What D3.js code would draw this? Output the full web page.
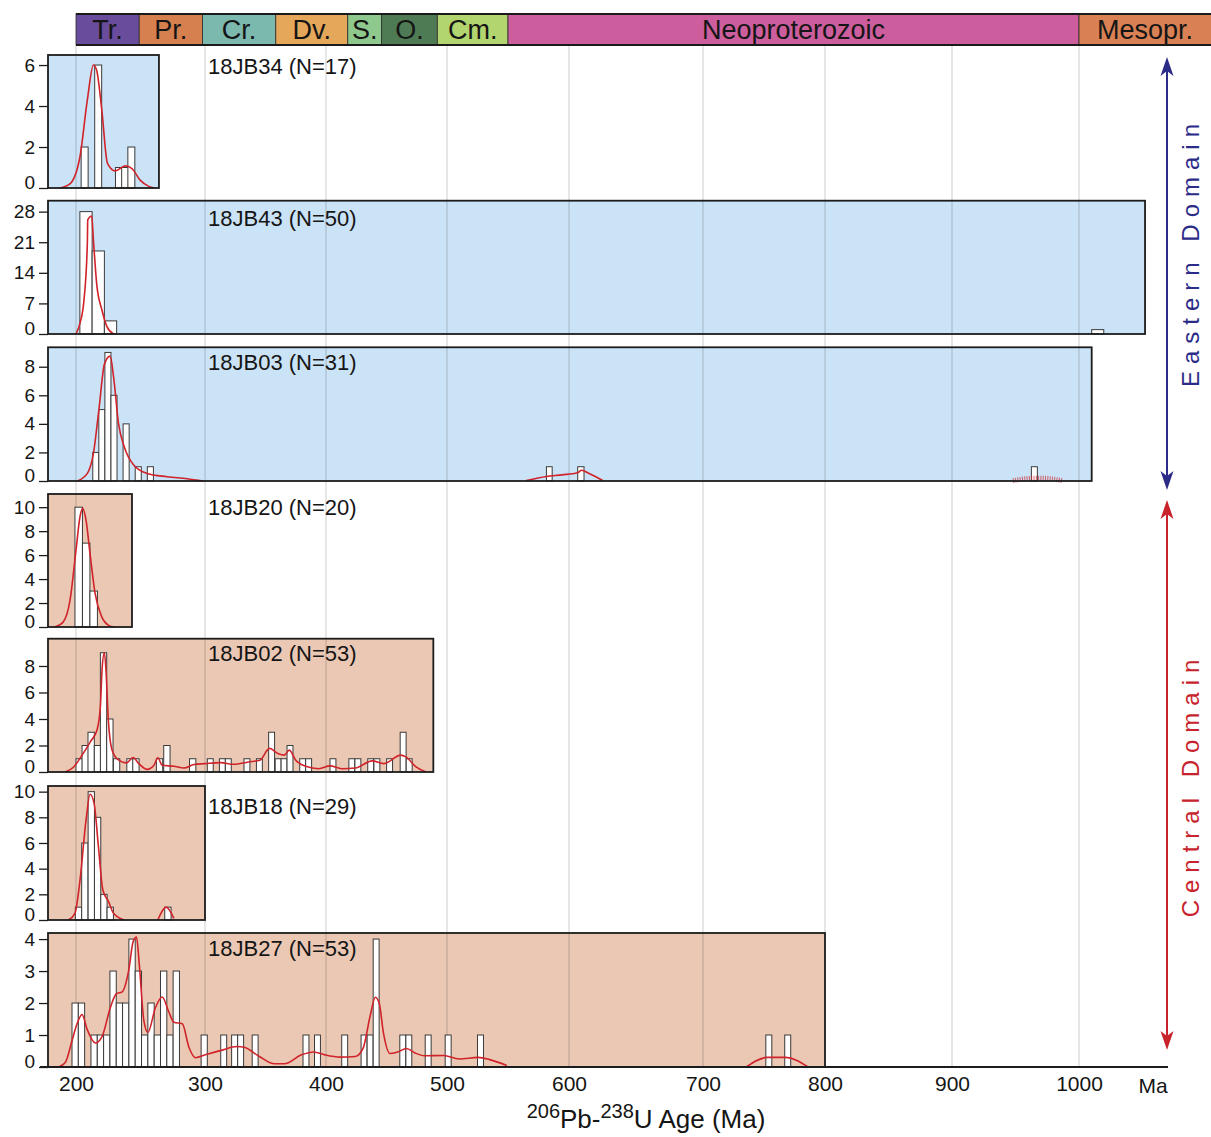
<!DOCTYPE html>
<html>
<head>
<meta charset="utf-8">
<script src="https://cdn.jsdelivr.net/npm/d3@7"></script>
<style>
  body { margin: 0; background: #fff; }
  svg { display: block; }
</style>
</head>
<body>
<div id="chart"></div>
<script>
// ---- data ----
const sampleNames = ['18JB34', '18JB43', '18JB03', '18JB20', '18JB02', '18JB18', '18JB27'];
const sampleN = [17, 50, 31, 20, 53, 29, 53];
const sampleDomain = ['east', 'east', 'east', 'central', 'central', 'central', 'central'];
const panelMaxAge = [264.3, 1052, 1010, 243.4, 488.7, 300, 800]; // right edge of each box (Ma)
const binWidths = [5.4, 9.5, 4.7, 5.8, 4.9, 4.9, 4.9];
const yMax = [6.49, 30.5, 9.36, 11.1, 10.06, 10.44, 4.19];
const yTicks = [[0, 2, 4, 6], [0, 7, 14, 21, 28], [0, 2, 4, 6, 8], [0, 2, 4, 6, 8, 10],
                [0, 2, 4, 6, 8], [0, 2, 4, 6, 8, 10], [0, 1, 2, 3, 4]];

// histogram bins: [bin start (Ma), count]
const bins34 = [[204, 2], [214.5, 6], [230.6, 1], [235.4, 1], [240.2, 2]];
const bins43 = [[203, 28], [212.5, 19], [222, 3], [1010, 1]];
const bins03 = [[213, 2], [217.7, 5], [222.4, 9], [227.1, 6], [236.5, 4], [245.9, 1], [255.3, 1],
                [581.5, 1], [606.5, 1], [962.5, 1]];
const bins20 = [[199.2, 10], [205, 7], [210.8, 3]];
const bins02 = [[200, 1], [204.7, 2], [209.3, 3], [214.2, 2], [218.9, 9], [223.8, 4], [229, 1],
                [239.4, 1], [244, 1], [262.3, 1], [268, 2], [288, 1], [301.9, 1], [311.9, 1],
                [316.8, 1], [332.2, 1], [342.5, 1], [352.6, 3], [358, 1], [362.9, 1], [367.8, 2],
                [378.3, 1], [383.2, 1], [403.3, 1], [418.9, 1], [423.9, 1], [434.5, 1], [439.6, 1],
                [450.1, 1], [461.3, 3], [466.3, 1]];
const bins18 = [[199.5, 1], [204.4, 6], [209.4, 10], [214.3, 8], [219.2, 2], [224.1, 1], [268.8, 1]];
const bins27 = [[196.9, 2], [201.8, 2], [211.6, 1], [216.5, 1], [221.4, 1], [226.3, 3], [231.2, 2],
                [236.1, 2], [241, 4], [245.9, 3], [250.8, 1], [255.7, 2], [260.6, 1], [265.5, 3],
                [270.4, 1], [275.3, 3], [297, 1], [313, 1], [322, 1], [327, 1], [339, 1], [381, 1],
                [390.5, 1], [413, 1], [429, 1], [434, 1], [439, 4], [461, 1], [466, 1], [482, 1],
                [498.5, 1], [525, 1], [751.5, 1], [767, 1]];

// probability density curves: [age (Ma), value on the count axis], one list per curve piece
const kde34 = [[[187.5, 0], [195.3, 0.2], [203, 1.5], [208.8, 4.3], [213.5, 6.0], [216, 5.75], [220, 3.8],
                [224.4, 1.2], [230.4, 0.83], [238.2, 1.08], [243.4, 0.95], [249.9, 0.37], [256.4, 0.08], [260.8, 0]]];
const kde43 = [[[200, 0], [203.1, 2.5], [206.2, 7.8], [208.8, 20.8], [209.1, 26.1], [212.2, 27], [213.5, 21.5],
                [216.1, 11.3], [220, 5.6], [223.9, 1.75], [229.1, 0]]];
const kde03 = [[[201, 0], [208.8, 0.53], [213.5, 1.93], [217.7, 4.95], [222.1, 8.2], [226.5, 8.74], [229.1, 7.3],
                [233, 4.0], [237.4, 2.4], [244.7, 1.12], [255.1, 0.53], [270.6, 0.3], [286.2, 0.16], [298.7, 0]],
               [[565, 0.03], [581.5, 0.32], [594.3, 0.43], [606.3, 0.58], [609.4, 0.75], [615, 0.52], [625.2, 0.03]]];
const kde03Hatched = [[948, 0.02], [958, 0.16], [967, 0.2], [977, 0.16], [987, 0.02]];
const kde20 = [[[183.6, 0], [190.1, 0.42], [195.3, 2.2], [200, 6.4], [203.1, 9.2], [205.2, 9.9], [207.8, 8.9],
                [210.9, 6.1], [214.8, 2.8], [220, 0.84], [225.2, 0.14], [229.6, 0]]];
const kde02 = [[[191.7, 0], [198.2, 0.38], [204.7, 1.27], [211.1, 2.28], [216.3, 3.17], [218.9, 4.95], [220.2, 7.74],
                [222, 9.0], [223.3, 7.6], [224.9, 4.2], [228, 1.65], [233.2, 0.89], [239.1, 0.69], [244.3, 1.09],
                [248.7, 0.63], [255.2, 0.2], [260.4, 0.51], [263.5, 1.07], [266.8, 0.51], [275.9, 0.43],
                [283.7, 0.3], [291.5, 0.56], [300, 0.63], [312.7, 0.71], [323.6, 0.58], [335.8, 0.76],
                [345.3, 0.89], [353.4, 1.78], [360.2, 1.4], [365.6, 1.27], [369.6, 1.65], [375, 0.89],
                [383.2, 0.43], [394, 0.25], [403.3, 0.46], [413.1, 0.25], [424.2, 0.3], [438.2, 0.84],
                [447.9, 0.63], [461.8, 1.27], [466, 1.14], [474.4, 0.38], [482.7, 0]]];
const kde18 = [[[194, 0], [199.2, 0.52], [203.1, 3.1], [207.8, 7.8], [210.9, 9.8], [214, 9.1], [217.4, 5.7],
                [220.8, 2.34], [225.2, 1.43], [229.1, 0.52], [237.4, 0]],
               [[263.4, 0], [269.9, 1.0], [275.8, 0.13]]];
const kde27 = [[[186.5, 0], [191.7, 0.14], [196.9, 0.82], [200.8, 1.35], [204.7, 1.64], [208.5, 1.19], [215, 0.75],
                [220.2, 0.95], [226.7, 1.87], [231.3, 2.29], [235.8, 2.35], [240.9, 3.03], [244.3, 3.92],
                [246.9, 4.06], [249, 3.24], [252.6, 1.45], [255.7, 1.08], [261.7, 1.87], [266.8, 2.19],
                [272, 1.72], [275.9, 1.4], [282.4, 1.35], [287.6, 0.61], [292.7, 0.29], [300.9, 0.39],
                [313.3, 0.52], [326.6, 0.64], [332.3, 0.62], [344.9, 0.33], [357.6, 0.1], [365.5, 0.1],
                [379.7, 0.38], [389.9, 0.47], [399, 0.38], [411.7, 0.31], [424.3, 0.33], [430.7, 0.59],
                [436.4, 1.58], [440.8, 2.18], [444, 1.99], [447.5, 1.06], [452.9, 0.42], [459.2, 0.47],
                [466.5, 0.58], [473.5, 0.44], [481.4, 0.35], [497.3, 0.36], [510, 0.25], [525.6, 0.3],
                [535, 0.23], [549, 0.05]],
               [[735.3, 0], [752.8, 0.3], [767.7, 0.3], [786.2, 0]]];

const sampleBins = [bins34, bins43, bins03, bins20, bins02, bins18, bins27];
const sampleKde = [kde34, kde43, kde03, kde20, kde02, kde18, kde27];

// geological time scale strip
const periodNames = ['Tr.', 'Pr.', 'Cr.', 'Dv.', 'S.', 'O.', 'Cm.', 'Neoproterozoic', 'Mesopr.'];
const periodStart = [200, 249, 298, 358.5, 418, 446, 492, 550, 1000];
const periodEnd = [249, 298, 358.5, 418, 446, 492, 550, 1000, 1105];
const periodColors = ['#6a4c9c', '#d6804f', '#7bb8ae', '#e5a85a', '#8ec88c', '#4f7b54', '#b3d56f', '#cc5e9d', '#d98155'];

const xTickValues = [200, 300, 400, 500, 600, 700, 800, 900, 1000];

// ---- layout ----
const W = 1211, H = 1137;
const panelTop = [55, 200.7, 347.3, 494, 638.7, 786, 933];
const panelBottom = [188, 334, 481, 627, 772, 920, 1067];
const labelBaseline = [74, 226, 370, 515, 661, 814, 956];
const boxLeft = 48;
const domainFill = { east: '#cbe3f6', central: '#eac8b4' };
const curveColor = '#d0232a';

const svg = d3.select('#chart')
  .append('svg')
  .attr('width', W)
  .attr('height', H)
  .style('font-family', '"Liberation Sans", Arial, Helvetica, sans-serif');

// the age axis in the figure isn't quite even, so piecewise linear through the gridlines
const x = d3.scaleLinear()
  .domain(xTickValues)
  .range([76, 205, 326, 447, 569, 703, 825, 952, 1079]);

// time scale bar
const strip = svg.append('g');
strip.selectAll('rect')
  .data(periodNames)
  .enter()
  .append('rect')
  .attr('x', (d, i) => x(periodStart[i]))
  .attr('width', (d, i) => x(periodEnd[i]) - x(periodStart[i]))
  .attr('y', 14)
  .attr('height', 31)
  .attr('fill', (d, i) => periodColors[i])
  .attr('stroke', '#2a2a2a')
  .attr('stroke-width', 0.8);
strip.selectAll('text')
  .data(periodNames)
  .enter()
  .append('text')
  .attr('x', (d, i) => (x(periodStart[i]) + Math.min(x(periodEnd[i]), W)) / 2)
  .attr('y', 39)
  .attr('text-anchor', 'middle')
  .attr('font-size', 27)
  .attr('fill', '#151515')
  .text(d => d);
strip.append('line').attr('x1', x(200)).attr('x2', W).attr('y1', 14).attr('y2', 14)
  .attr('stroke', '#1a1a1a').attr('stroke-width', 2);
strip.append('line').attr('x1', x(200)).attr('x2', W).attr('y1', 45).attr('y2', 45)
  .attr('stroke', '#1a1a1a').attr('stroke-width', 2);

// box fills first, gridlines go over them
sampleNames.forEach((name, i) => {
  svg.append('rect')
    .attr('x', boxLeft)
    .attr('y', panelTop[i])
    .attr('width', x(panelMaxAge[i]) - boxLeft)
    .attr('height', panelBottom[i] - panelTop[i])
    .attr('fill', domainFill[sampleDomain[i]]);
});

svg.append('g')
  .selectAll('line')
  .data(xTickValues)
  .enter()
  .append('line')
  .attr('x1', d => x(d)).attr('x2', d => x(d))
  .attr('y1', 46).attr('y2', 1067)
  .attr('stroke', 'rgba(0,0,0,0.2)')
  .attr('stroke-width', 1);

// each sample panel
sampleNames.forEach((name, i) => {
  const g = svg.append('g');
  const y = d3.scaleLinear()
    .domain([0, yMax[i]])
    .range([panelBottom[i], panelTop[i]]);
  const bw = binWidths[i];

  g.selectAll('rect.bar')
    .data(sampleBins[i])
    .enter()
    .append('rect')
    .attr('class', 'bar')
    .attr('x', d => x(d[0]))
    .attr('width', d => x(d[0] + bw) - x(d[0]))
    .attr('y', d => y(d[1]))
    .attr('height', d => y(0) - y(d[1]))
    .attr('fill', '#fff')
    .attr('stroke', '#3a3a3a')
    .attr('stroke-width', 1);

  const line = d3.line()
    .x(d => x(d[0]))
    .y(d => y(d[1]))
    .curve(d3.curveMonotoneX);

  g.selectAll('path.kde')
    .data(sampleKde[i])
    .enter()
    .append('path')
    .attr('class', 'kde')
    .attr('d', line)
    .attr('fill', 'none')
    .attr('stroke', curveColor)
    .attr('stroke-width', 1.6);

  if (name === '18JB03') {
    // this little one is drawn as a fuzzy hatched band in the original
    g.append('path')
      .attr('d', line(kde03Hatched))
      .attr('fill', 'none')
      .attr('stroke', curveColor)
      .attr('stroke-width', 5)
      .attr('stroke-dasharray', '1 1.3')
      .attr('opacity', 0.7);
  }

  // box outline
  g.append('rect')
    .attr('x', boxLeft)
    .attr('y', panelTop[i])
    .attr('width', x(panelMaxAge[i]) - boxLeft)
    .attr('height', panelBottom[i] - panelTop[i])
    .attr('fill', 'none')
    .attr('stroke', '#1c1c1c')
    .attr('stroke-width', 1.8);

  const yAxis = g.append('g')
    .attr('transform', `translate(${boxLeft},0)`)
    .call(d3.axisLeft(y).tickValues(yTicks[i]).tickSize(9).tickPadding(4).tickFormat(d3.format('d')));
  yAxis.select('.domain').remove();
  yAxis.selectAll('line').attr('stroke', '#1c1c1c').attr('stroke-width', 1.3);
  yAxis.selectAll('text')
    .attr('font-size', 19)
    .attr('font-family', '"Liberation Sans", Arial, sans-serif')
    .attr('fill', '#151515');
  // the zero labels sit a touch above their tick in the original
  yAxis.selectAll('.tick').filter(d => d === 0).select('text').attr('dy', '0.05em');

  g.append('text')
    .attr('x', 208)
    .attr('y', labelBaseline[i])
    .attr('font-size', 22)
    .attr('fill', '#151515')
    .text(`${name} (N=${sampleN[i]})`);
});

// bottom age axis
const xAxis = svg.append('g')
  .attr('transform', 'translate(0,1067)')
  .call(d3.axisBottom(x).tickValues(xTickValues).tickSize(0).tickPadding(9).tickFormat(d3.format('d')));
xAxis.select('.domain').remove();
xAxis.selectAll('text')
  .attr('font-size', 21)
  .attr('font-family', '"Liberation Sans", Arial, sans-serif')
  .attr('fill', '#151515');
svg.append('line')
  .attr('x1', 40).attr('x2', 1168)
  .attr('y1', 1067).attr('y2', 1067)
  .attr('stroke', '#1c1c1c').attr('stroke-width', 2);
svg.append('text')
  .attr('x', 1153).attr('y', 1093)
  .attr('text-anchor', 'middle')
  .attr('font-size', 21)
  .attr('fill', '#151515')
  .text('Ma');

const xTitle = svg.append('text')
  .attr('x', 646).attr('y', 1128)
  .attr('text-anchor', 'middle')
  .attr('font-size', 26)
  .attr('fill', '#151515');
xTitle.append('tspan').attr('font-size', 20).attr('dy', -10).text('206');
xTitle.append('tspan').attr('dy', 10).text('Pb-');
xTitle.append('tspan').attr('font-size', 20).attr('dy', -10).text('238');
xTitle.append('tspan').attr('dy', 10).text('U Age (Ma)');

// domain arrows on the right
function domainArrow(y1, y2, textY, color, label) {
  const g = svg.append('g');
  const ax = 1167;
  g.append('line')
    .attr('x1', ax).attr('x2', ax)
    .attr('y1', y1 + 10).attr('y2', y2 - 10)
    .attr('stroke', color).attr('stroke-width', 2);
  const head = (tipY, dir) =>
    `M${ax},${tipY} L${ax - 6.5},${tipY + dir * 19} L${ax},${tipY + dir * 14} L${ax + 6.5},${tipY + dir * 19} Z`;
  g.append('path').attr('d', head(y1, 1)).attr('fill', color);
  g.append('path').attr('d', head(y2, -1)).attr('fill', color);
  g.append('text')
    .attr('transform', `translate(1199,${textY}) rotate(-90)`)
    .attr('text-anchor', 'middle')
    .attr('font-size', 24)
    .attr('letter-spacing', 7)
    .attr('fill', color)
    .text(label);
}
domainArrow(57, 490, 252, '#2c2c88', 'Eastern Domain');
domainArrow(500, 1050, 785, '#c8232c', 'Central Domain');
</script>
</body>
</html>
